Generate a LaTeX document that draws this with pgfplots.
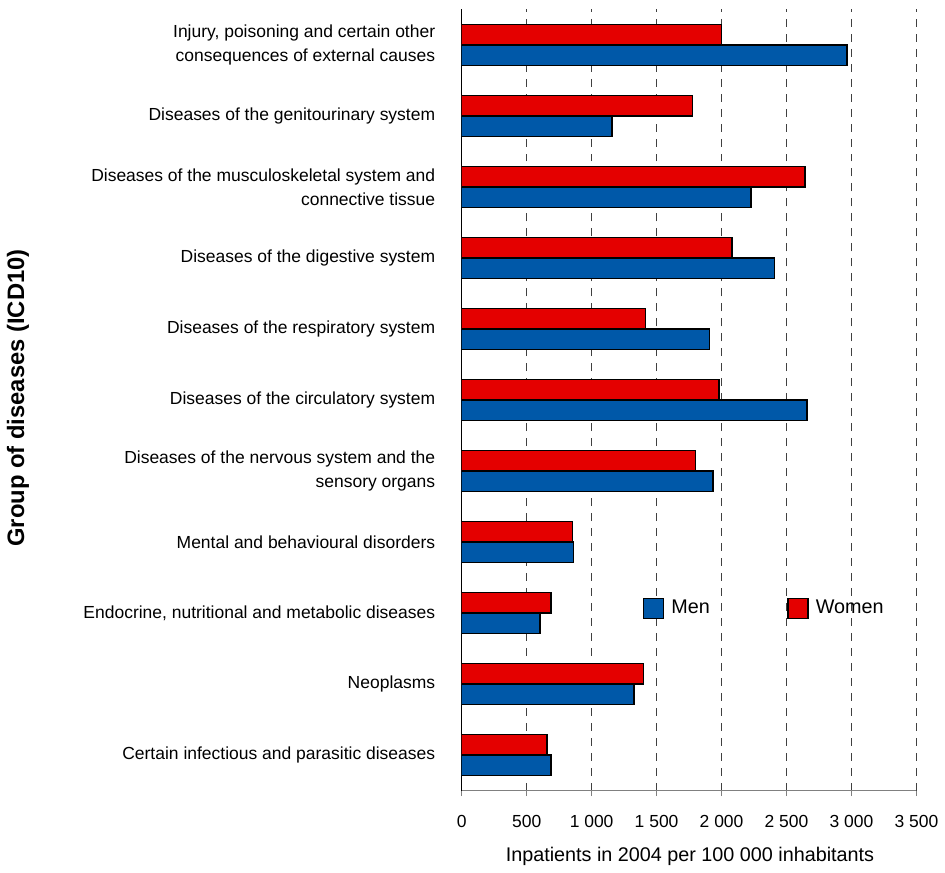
\documentclass[border=0pt]{standalone}
\usepackage{fontspec}
\setmainfont{Liberation Sans}
\usepackage{pgfplots}
\pgfplotsset{compat=1.18}
\definecolor{menblue}{RGB}{0,88,168}
\definecolor{womenred}{RGB}{228,0,0}
\newcommand\fs{\fontsize{8.75}{12}\selectfont}
\newcommand\fl{\fontsize{9.9}{12}\selectfont}
\begin{document}
\begin{tikzpicture}
\begin{axis}[
  scale only axis, width=227.7pt, height=391.2pt,
  xmin=0, xmax=3500, ymin=-0.5, ymax=10.5,
  axis x line*=bottom, axis y line*=left,
  x axis line style={draw=gray, line width=0.75pt},
  y axis line style={draw=black, line width=0.5pt},
  xbar, bar width=10.25pt,
  tick align=outside, major tick length=2.75pt,
  xtick={0,500,1000,1500,2000,2500,3000,3500},
  xticklabels={0,500,1 000,1 500,2 000,2 500,3 000,3 500},
  xtick style={draw=gray, line width=0.75pt},
  xticklabel style={font=\fs, yshift=-6pt},
  xmajorgrids,
  major x grid style={draw=black!75, line width=0.5pt, dash pattern=on 4pt off 3.5pt},
  ytick={0,1,2,3,4,5,6,7,8,9,10},
  ytick style={draw=none},
  yticklabels={
    Certain infectious and parasitic diseases,
    Neoplasms,
    {Endocrine, nutritional and metabolic diseases},
    Mental and behavioural disorders,
    Diseases of the nervous system and the\\sensory organs,
    Diseases of the circulatory system,
    Diseases of the respiratory system,
    Diseases of the digestive system,
    Diseases of the musculoskeletal system and\\connective tissue,
    Diseases of the genitourinary system,
    {Injury, poisoning and certain other\\consequences of external causes}},
  yticklabel style={font=\fs, align=right, xshift=-7pt},
  extra y ticks={-0.5,0.5,1.5,2.5,3.5,4.5,5.5,6.5,7.5,8.5,9.5,10.5},
  extra y tick labels={},
  extra y tick style={tick style={draw=black, line width=0.5pt}},
  xlabel={Inpatients in 2004 per 100 000 inhabitants},
  xlabel style={font=\fl, at={(rel axis cs:0.502,0)}, anchor=base, yshift=-35.65pt},
  ylabel={Group of diseases (ICD10)},
  ylabel style={font=\fontsize{11.9}{14}\selectfont\bfseries, at={(rel axis cs:-0.9756,0.5026)}, anchor=center, inner sep=0pt},
  legend columns=2,
  legend style={draw=none, fill=none, font=\fl, at={(rel axis cs:0.3975,0.2330)}, anchor=west, inner sep=0pt},
  legend image code/.code={\draw[#1, line width=0.75pt] (0pt,-5pt) rectangle (10pt,5pt);},
]
\addplot[fill=menblue, draw=black, line width=0.75pt, bar shift=-5.125pt] coordinates {
  (689,0) (1327,1) (602,2) (861,3) (1934,4) (2659,5) (1909,6) (2408,7) (2228,8) (1158,9) (2966,10)
};
\addplot[fill=womenred, draw=black, line width=0.75pt, bar shift=5.125pt] coordinates {
  (658,0) (1401,1) (689,2) (851,3) (1798,4) (1980,5) (1414,6) (2082,7) (2643,8) (1775,9) (2000,10)
};
\legend{{\makebox[57.65pt][l]{\hspace*{1.5pt}Men}},{\hspace*{1.5pt}Women}}
\end{axis}
\path (current axis.south west) ++(-231.15pt,-38.65pt);
\path (current axis.south west) ++(241.35pt,395.85pt);
\end{tikzpicture}
\end{document}
